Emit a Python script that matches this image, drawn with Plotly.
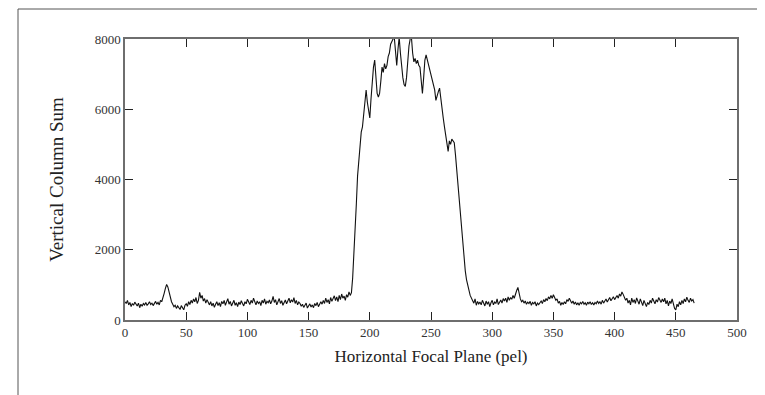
import plotly.graph_objects as go

# Column-sum profile values, one per pel (x = 0..465)
baseline_left = [
    520, 470, 560, 430, 500, 380, 470, 420, 510, 440,
    400, 480, 350, 450, 390, 470, 430, 500, 420, 460,
    520, 440, 480, 410, 470, 530, 450, 500, 430, 560,
    520, 610, 760, 900, 1010, 940, 780, 630, 520, 450,
    380, 420, 330, 400, 360, 300, 410, 350, 290, 420,
    460, 390, 520, 440, 560, 480, 600, 520, 640, 470,
    560, 790, 620, 700, 540, 610, 480, 580, 500, 430,
    520, 400, 480, 360, 450, 520, 410, 490, 380, 530,
    460, 560, 420, 500, 610, 450, 530, 400, 480, 560,
    420, 490, 380, 510, 440, 550, 470, 400, 520, 460,
    590, 510, 440, 560, 480, 620, 500, 430, 540, 470,
    520, 410, 560, 480, 600, 450, 530, 490, 570, 460,
    540, 670, 500, 580, 430, 520, 610, 470, 550, 420,
    500, 570, 460, 540, 620, 490, 580, 510, 640, 470,
    560, 430, 510, 470, 390, 450, 360, 420, 480, 340,
    400, 460, 370, 430, 350, 470, 410, 500, 380, 440,
    520, 450, 560, 470, 620, 500, 580, 460, 640, 530,
    600, 690, 550, 660, 520, 700, 580, 740, 620, 680,
    560, 720, 650, 800, 700,
]
peak_region = [
    780, 1200, 1800, 2450, 3300, 4100, 4600, 5000, 5350, 5500,
    5800, 6100, 6550, 6200, 5900, 5750, 6300, 6850, 7200, 7400,
    6900, 6450, 6350, 6450, 6800, 7200, 7050, 7300, 7150, 7250,
    7500, 7600, 7850, 7950, 8000, 8050, 7500, 7250, 7700, 8050,
    7600, 7200, 6900, 6700, 6650, 6900, 7400, 7800, 8000, 8050,
    7600, 7350, 7450, 7300, 7400, 7250, 7200, 6700, 6450, 6900,
    7400, 7550, 7400, 7250, 7150, 6950, 6850, 6700, 6550, 6250,
    6400, 6500, 6600, 6300, 5900, 5750, 5500, 5250, 5050, 4800,
    5100, 5000, 5150, 5100, 5050, 4700, 4300, 3850, 3450, 3000,
    2550, 2100, 1700, 1400, 1150, 950, 850, 700, 620, 560,
]
baseline_right = [
    480, 600, 420, 530, 460,
    510, 430, 560, 470, 400, 540, 450, 520, 380, 490,
    560, 430, 510, 470, 600, 440, 520, 570, 480, 610,
    540, 620, 500, 660, 560, 640, 590, 700, 620, 760,
    840, 930, 720, 600, 520, 560, 480, 540, 450, 510,
    470, 530, 420, 500, 460, 520, 400, 480, 440, 500,
    540, 470, 580, 520, 610, 550, 660, 600, 700, 620,
    720, 640, 560, 600, 480, 530, 420, 500, 440, 520,
    460, 580, 530, 620, 560, 480, 540, 450, 510, 430,
    490, 420, 500, 460, 530, 450, 490, 420, 510, 460,
    520, 440, 490, 430, 500, 460, 540, 470, 520, 450,
    560, 480, 540, 600, 510, 570, 640, 550, 600, 660,
    580, 640, 700, 620, 740, 680, 800, 730, 640, 560,
    620, 480, 560, 430, 620, 500, 580, 470, 630, 540,
    450, 600, 520, 410, 560, 480, 380, 500, 440, 560,
    480, 620, 540, 460, 580, 510, 640, 560, 500, 600,
    520, 620, 460, 560, 400, 540, 470, 600, 420, 330,
    290, 450, 380, 520, 430, 560, 470, 600, 520, 650,
    560, 500, 620, 540, 580, 480,
]
column_sum = baseline_left + peak_region + baseline_right
pel = list(range(len(column_sum)))

x_ticks = [0, 50, 100, 150, 200, 250, 300, 350, 400, 450, 500]
y_ticks = [0, 2000, 4000, 6000, 8000]

FONT = "Liberation Serif"

fig = go.Figure()
fig.add_trace(go.Scatter(x=pel, y=column_sum, mode="lines",
                         line=dict(color="#111111", width=1.1), showlegend=False,
                         hoverinfo="skip"))

axis_common = dict(
    showline=True, linecolor="#6e6e6e", linewidth=1.5, mirror="ticks",
    ticks="inside", ticklen=8, tickcolor="#222222", tickwidth=1,
    showgrid=False, zeroline=False,
    tickfont=dict(family=FONT, size=13, color="#333333"),
)

fig.update_xaxes(range=[0, 500], tickvals=x_ticks,
                 title=dict(text="Horizontal Focal Plane (pel)",
                            font=dict(family=FONT, size=17, color="#222222"),
                            standoff=11),
                 **axis_common)
fig.update_yaxes(range=[0, 8000], tickvals=y_ticks,
                 title=dict(text="Vertical Column Sum",
                            font=dict(family=FONT, size=19, color="#222222"),
                            standoff=26),
                 **axis_common)

# the page body has an 8px default margin, so figure is 757x387 with
# plot area at page pixels x 125..737, y 39..320
W, H = 757, 387
L, R, T, B = 117, 28, 31, 75
pw, ph = W - L - R, H - T - B
fx = lambda px: (px - 8 - L) / pw
fy = lambda py: (H - B - (py - 8)) / ph

# outer frame lines (top and left), as in the reference screenshot
fig.add_shape(type="line", xref="paper", yref="paper",
              x0=fx(18), x1=fx(770), y0=fy(9), y1=fy(9),
              line=dict(color="#555555", width=1))
fig.add_shape(type="line", xref="paper", yref="paper",
              x0=fx(18), x1=fx(18), y0=fy(9), y1=fy(400),
              line=dict(color="#555555", width=1))

fig.update_layout(
    width=W, height=H,
    margin=dict(l=L, r=R, t=T, b=B, autoexpand=False),
    paper_bgcolor="white", plot_bgcolor="white",
    font=dict(family=FONT),
)

fig.write_html("out.html")
